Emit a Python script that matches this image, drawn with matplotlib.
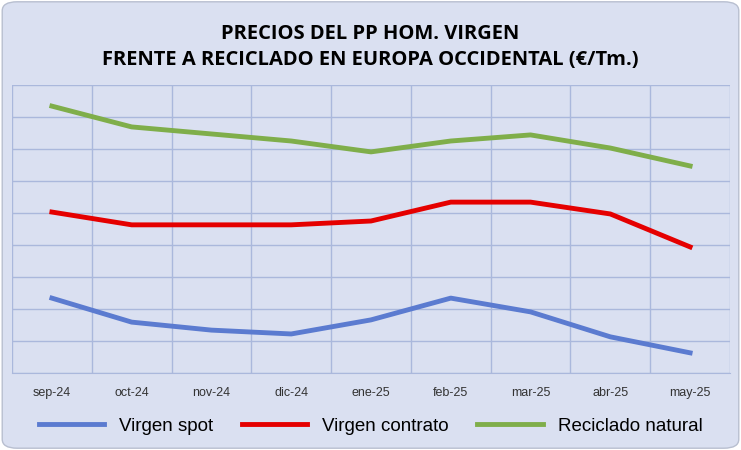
import matplotlib.pyplot as plt
from matplotlib.patches import FancyBboxPatch

months = ["sep-24","oct-24","nov-24","dic-24","ene-25","feb-25","mar-25","abr-25","may-25"]
spot = [2.34,1.59,1.34,1.22,1.66,2.34,1.91,1.13,0.63]
contrato = [5.03,4.63,4.63,4.63,4.75,5.34,5.34,4.97,3.94]
reciclado = [8.34,7.69,7.47,7.25,6.91,7.25,7.44,7.03,6.47]

bg = "#dae0f1"
fig = plt.figure(figsize=(7.41,4.5), dpi=100)
fig.patch.set_facecolor("white")
box = FancyBboxPatch((0.003,0.004),0.994,0.992,boxstyle="round,pad=0,rounding_size=0.02",
    transform=fig.transFigure, facecolor=bg, edgecolor="#b8bfd0", lw=1, zorder=-10)
fig.patches.append(box)
ax = fig.add_axes([12/741, 77/450, 718/741, 288/450])
ax.set_zorder(5)
ax.set_facecolor(bg)
x = range(len(months))
ax.plot(x, spot, color="#5b7bd0", lw=3.5, label="Virgen spot")
ax.plot(x, contrato, color="#e50000", lw=3.5, label="Virgen contrato")
ax.plot(x, reciclado, color="#7fae4a", lw=3.5, label="Reciclado natural")
ax.set_xlim(-0.5, 8.5); ax.set_ylim(0, 9)
ax.set_yticks(range(0,10)); ax.set_yticklabels([])
ax.set_xticks(list(x)); ax.set_xticklabels(months, fontsize=9, color="#333333", fontfamily="Liberation Sans")
ax.set_xticks([i+0.5 for i in range(-1,9)], minor=True)
ax.set_axisbelow(True)
ax.grid(axis="y", color="#aab8dc", lw=1)
ax.grid(axis="x", which="minor", color="#aab8dc", lw=1)
ax.tick_params(length=0, which="both", pad=10)
for s in ["top","right","left"]: ax.spines[s].set_visible(False)
ax.spines["bottom"].set_color("#aab8dc")
fig.text(0.5, 0.895, "PRECIOS DEL PP HOM. VIRGEN\nFRENTE A RECICLADO EN EUROPA OCCIDENTAL (€/Tm.)",
         ha="center", va="center", fontsize=14.5, fontweight="bold", linespacing=1.4, fontfamily="Open Sans")
fig.legend(loc="center", bbox_to_anchor=(0.5, 1-426/450), ncol=3, frameon=False,
           handlelength=3.5, columnspacing=1.5, prop={"family":"Liberation Sans","size":13.5})
fig.savefig("out.png", dpi=100, facecolor="white")
